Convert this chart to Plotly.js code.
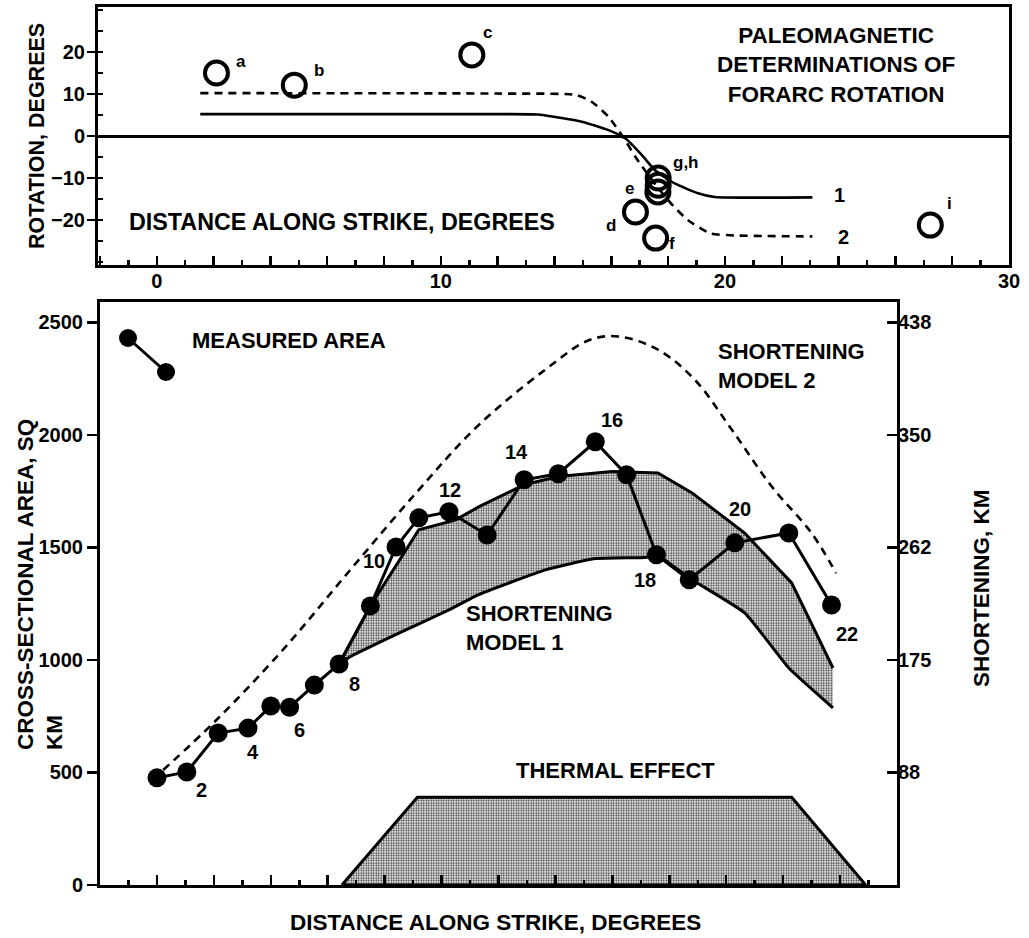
<!DOCTYPE html>
<html>
<head>
<meta charset="utf-8">
<script src="https://cdn.plot.ly/plotly-3.0.1.min.js"></script>
<style>
html,body{margin:0;padding:0;background:#fff;}
#chart{width:1029px;height:938px;}
</style>
</head>
<body>
<div id="chart"></div>
<script>
// ---------- top panel: paleomagnetic rotation ----------
const rotModel1X = [1.53, 12.01, 13.40, 14.96, 15.90, 16.50, 17.07, 17.53, 18.23, 19.05, 19.64, 23.08];
const rotModel1Y = [5.2, 5.2, 5.1, 3.4, 1.4, -0.6, -4.5, -8.1, -11.3, -13.6, -14.5, -14.6];
const rotModel2X = [1.53, 12.01, 14.73, 15.30, 15.90, 16.49, 16.84, 17.49, 18.09, 18.69, 19.49, 20.46, 23.08];
const rotModel2Y = [10.2, 10.1, 9.8, 8.2, 4.6, -1.0, -4.9, -11.0, -16.0, -20.0, -23.2, -23.7, -23.9];
const siteNames = ['a', 'b', 'c', 'd', 'e', 'f', 'g', 'h', 'i'];
const siteLabels = ['a', 'b', 'c', 'd', 'e', 'f', 'g,h', '', 'i'];
const siteX = [2.10, 4.84, 11.09, 16.85, 17.64, 17.56, 17.65, 17.65, 27.23];
const siteY = [15.0, 12.1, 19.3, -18.1, -13.3, -24.3, -10.0, -11.7, -21.2];
const topXTicks = [-2, 0, 2, 4, 6, 8, 10, 12, 14, 16, 18, 20, 22, 24, 26, 28, 30];
const topXTickText = ['', '0', '', '', '', '', '10', '', '', '', '', '20', '', '', '', '', '30'];
const topYTicks = [-20, -10, 0, 10, 20];

// ---------- bottom panel: cross-sectional area ----------
const areaX = [0.0, 1.05, 2.15, 3.2, 4.0, 4.66, 5.53, 6.4, 7.5, 8.4, 9.2, 10.26, 11.6, 12.9, 14.1, 15.4, 16.5, 17.55, 18.7, 20.3, 22.2, 23.7];
const areaY = [476, 502, 675, 697, 795, 790, 888, 982, 1240, 1502, 1631, 1658, 1555, 1800, 1827, 1969, 1822, 1467, 1356, 1520, 1564, 1244];
const pointLabels = ['2', '4', '6', '8', '10', '12', '14', '16', '18', '20', '22'];
const model1UpperX = [6.4, 7.5, 9.2, 10.5, 11.3, 12.9, 14.1, 16.0, 17.6, 18.8, 20.65, 22.3, 23.75];
const model1UpperY = [982, 1240, 1578, 1622, 1680, 1778, 1815, 1837, 1830, 1742, 1563, 1342, 964];
const model1LowerX = [6.4, 6.8, 8.5, 10.26, 11.3, 13.65, 15.4, 17.15, 17.6, 18.8, 20.65, 22.2, 23.75];
const model1LowerY = [982, 1015, 1119, 1222, 1290, 1400, 1450, 1455, 1462, 1356, 1209, 964, 787];
const model2X = [0.22, 2.09, 4.42, 6.76, 9.10, 11.25, 13.65, 15.17, 16.2, 17.6, 18.9, 20.2, 21.6, 23.0, 23.86];
const model2Y = [511, 733, 1044, 1395, 1741, 2037, 2290, 2420, 2437, 2378, 2244, 2022, 1770, 1563, 1385];
const thermalX = [6.5, 9.15, 22.3, 24.9];
const thermalY = [0, 390, 390, 0];
const botXTicks = [-2, 0, 2, 4, 6, 8, 10, 12, 14, 16, 18, 20, 22, 24, 26];
const botXLabelTicks = [0, 10, 20];
const botXLabelText = ['0', '10', '20'];
const areaTicks = [0, 500, 1000, 1500, 2000, 2500];
const shorteningTicks = [500, 1000, 1500, 2000, 2500];
const shorteningTickText = ['88', '175', '262', '350', '438'];

// ---------- styling ----------
const FONT = 'Liberation Sans, Arial, Helvetica, sans-serif';
const txt = (size) => ({family: FONT, size: size, color: '#000', weight: 700});
const W = 1029, H = 938;
const px = (x) => x / W;
const py = (y) => 1 - y / H;
const AREA_RANGE = [0, 2590];
const BOT_TOP = 302, BOT_BOTTOM = 885;
// data value that sits 11 px below the lower axis line (for the bottom tick labels)
const tickLabelY = -11 * (AREA_RANGE[1] - AREA_RANGE[0]) / (BOT_BOTTOM - BOT_TOP);

const pointLabelOffsets = {
  '2': [15, -18], '4': [5, -24], '6': [10, -23], '8': [15, -20], '10': [-22, -14],
  '12': [1, 22], '14': [-8, 28], '16': [17, 22], '18': [-11, -25], '20': [5, 34], '22': [15, -29]
};
const siteLabelOffsets = {
  'a': [25, 11], 'b': [25, 15], 'c': [16, 22], 'd': [-24, -13], 'e': [-28, 3],
  'f': [16, -5], 'g,h': [28, 16], 'i': [19, 22]
};

const bandX = model1UpperX.concat(model1LowerX.slice().reverse());
const bandY = model1UpperY.concat(model1LowerY.slice().reverse());
const thermalPolyX = thermalX.concat([thermalX[0]]);
const thermalPolyY = thermalY.concat([thermalY[0]]);

const stipple = {shape: '.', fgcolor: '#333333', bgcolor: '#ffffff', size: 2.5, solidity: 0.45};

const traces = [
  {x: rotModel1X, y: rotModel1Y, xaxis: 'x', yaxis: 'y', mode: 'lines',
   line: {color: '#000', width: 2.6, shape: 'spline', smoothing: 0.5}},
  {x: rotModel2X, y: rotModel2Y, xaxis: 'x', yaxis: 'y', mode: 'lines',
   line: {color: '#000', width: 2.6, dash: '8px,6px', shape: 'spline', smoothing: 0.5}},
  {x: siteX, y: siteY, text: siteNames, xaxis: 'x', yaxis: 'y', mode: 'markers',
   marker: {symbol: 'circle-open', size: 23, color: '#000', line: {width: 4, color: '#000'}}},
  {x: thermalPolyX, y: thermalPolyY, xaxis: 'x2', yaxis: 'y2', mode: 'lines', fill: 'toself',
   fillcolor: '#9a9a9a', fillpattern: stipple, line: {color: '#000', width: 3}},
  {x: bandX, y: bandY, xaxis: 'x2', yaxis: 'y2', mode: 'lines', fill: 'toself',
   fillcolor: '#9a9a9a', fillpattern: stipple, line: {width: 0}},
  {x: model1UpperX, y: model1UpperY, xaxis: 'x2', yaxis: 'y2', mode: 'lines',
   line: {color: '#000', width: 3}},
  {x: model1LowerX, y: model1LowerY, xaxis: 'x2', yaxis: 'y2', mode: 'lines',
   line: {color: '#000', width: 3, shape: 'spline', smoothing: 0.4}},
  {x: model2X, y: model2Y, xaxis: 'x2', yaxis: 'y2', mode: 'lines',
   line: {color: '#000', width: 2.6, dash: '8px,6px', shape: 'spline', smoothing: 1}},
  {x: areaX, y: areaY, xaxis: 'x2', yaxis: 'y2', mode: 'lines+markers',
   line: {color: '#000', width: 3}, marker: {size: 19, color: '#000'}},
  // bottom x tick labels, placed on the x2 scale just under the axis line
  {x: botXLabelTicks, y: botXLabelTicks.map(() => tickLabelY), text: botXLabelText,
   xaxis: 'x2', yaxis: 'y2', mode: 'text', textposition: 'middle center', cliponaxis: false,
   textfont: txt(20), hoverinfo: 'skip'},
  {x: [areaX[0]], y: [areaY[0]], xaxis: 'x2', yaxis: 'y3', mode: 'markers',
   marker: {opacity: 0}, hoverinfo: 'skip'}
];

const annotations = [];
siteLabels.forEach((lab, i) => {
  if (!lab) return;
  const o = siteLabelOffsets[lab];
  annotations.push({x: siteX[i], y: siteY[i], xref: 'x', yref: 'y', text: lab, showarrow: false,
    xshift: o[0], yshift: o[1], font: txt(17)});
});
pointLabels.forEach((lab) => {
  const i = parseInt(lab, 10) - 1;
  const o = pointLabelOffsets[lab];
  annotations.push({x: areaX[i], y: areaY[i], xref: 'x2', yref: 'y2', text: lab, showarrow: false,
    xshift: o[0], yshift: o[1], font: txt(20)});
});
annotations.push({x: rotModel1X[rotModel1X.length - 1], y: rotModel1Y[rotModel1Y.length - 1], xref: 'x', yref: 'y',
  text: '1', showarrow: false, xshift: 27, yshift: 2, font: txt(20)});
annotations.push({x: rotModel2X[rotModel2X.length - 1], y: rotModel2Y[rotModel2Y.length - 1], xref: 'x', yref: 'y',
  text: '2', showarrow: false, xshift: 31, yshift: -1, font: txt(20)});

const freeText = [
  {x: px(836), y: py(65), text: 'PALEOMAGNETIC<br>DETERMINATIONS OF<br>FORARC ROTATION', size: 22.5, align: 'center'},
  {x: px(342), y: py(222), text: 'DISTANCE ALONG STRIKE, DEGREES', size: 23.3, align: 'center'},
  {x: px(289), y: py(340), text: 'MEASURED AREA', size: 22, align: 'center'},
  {x: px(791), y: py(366), text: 'SHORTENING<br>MODEL 2', size: 22, align: 'left'},
  {x: px(539), y: py(628), text: 'SHORTENING<br>MODEL 1', size: 22, align: 'left'},
  {x: px(615), y: py(770), text: 'THERMAL EFFECT', size: 22, align: 'center'},
  {x: px(495), y: py(922), text: 'DISTANCE ALONG STRIKE, DEGREES', size: 22.5, align: 'center'}
];
freeText.forEach(t => annotations.push({x: t.x, y: t.y, xref: 'paper', yref: 'paper', text: t.text,
  showarrow: false, align: t.align, xanchor: 'center', yanchor: 'middle', borderpad: 0, font: txt(t.size)}));
annotations.push({x: px(37), y: py(136), xref: 'paper', yref: 'paper', text: 'ROTATION, DEGREES',
  textangle: -90, showarrow: false, font: txt(21.5), xanchor: 'center', yanchor: 'middle'});
annotations.push({x: px(40), y: py(585), xref: 'paper', yref: 'paper', text: 'CROSS-SECTIONAL AREA, SQ<br>KM',
  textangle: -90, showarrow: false, align: 'left', font: txt(22.5), xanchor: 'center', yanchor: 'middle'});
annotations.push({x: px(981), y: py(588), xref: 'paper', yref: 'paper', text: 'SHORTENING, KM',
  textangle: -90, showarrow: false, font: txt(22.5), xanchor: 'center', yanchor: 'middle'});

const shapes = [
  {type: 'line', xref: 'paper', yref: 'paper', x0: px(128), y0: py(338), x1: px(166), y1: py(372),
   line: {color: '#000', width: 3}},
  {type: 'circle', xref: 'paper', yref: 'paper', xsizemode: 'pixel', ysizemode: 'pixel',
   xanchor: px(128), yanchor: py(338), x0: -9, x1: 9, y0: -9, y1: 9, fillcolor: '#000', line: {width: 0}},
  {type: 'circle', xref: 'paper', yref: 'paper', xsizemode: 'pixel', ysizemode: 'pixel',
   xanchor: px(166), yanchor: py(372), x0: -9, x1: 9, y0: -9, y1: 9, fillcolor: '#000', line: {width: 0}}
];

const axisLine = {showline: true, linecolor: '#000', linewidth: 3, showgrid: false, zeroline: false};

const layout = {
  width: W, height: H,
  margin: {l: 0, r: 0, t: 0, b: 0},
  paper_bgcolor: '#fff', plot_bgcolor: 'rgba(0,0,0,0)',
  showlegend: false, hovermode: false,
  xaxis: Object.assign({}, axisLine, {domain: [px(98), px(1009)], range: [-2.07, 30.0], anchor: 'y', mirror: true,
    tickmode: 'array', tickvals: topXTicks, ticktext: topXTickText, ticks: 'inside', ticklen: 9, tickwidth: 2.5,
    tickcolor: '#000', tickfont: txt(20), ticklabelstandoff: -4,
    minor: {dtick: 1, tick0: 0, ticks: 'inside', ticklen: 5, tickwidth: 2.5, tickcolor: '#000'}}),
  yaxis: Object.assign({}, axisLine, {domain: [py(265), py(7)], range: [-30.7, 30.7], anchor: 'x', mirror: true,
    tickmode: 'array', tickvals: topYTicks, ticks: 'outside', ticklen: 8, tickwidth: 2.5, tickcolor: '#000',
    tickfont: txt(20), zeroline: true, zerolinecolor: '#000', zerolinewidth: 3, ticklabelstandoff: -2,
    minor: {dtick: 5, tick0: 0, ticks: 'inside', ticklen: 5, tickwidth: 2.5, tickcolor: '#000'}}),
  xaxis2: Object.assign({}, axisLine, {domain: [px(100), px(897)], range: [-2, 26], anchor: 'y2', mirror: true,
    tickmode: 'array', tickvals: botXTicks, showticklabels: false, ticks: 'inside', ticklen: 10,
    tickwidth: 2.5, tickcolor: '#000',
    minor: {dtick: 1, tick0: 0, ticks: 'inside', ticklen: 5, tickwidth: 2.5, tickcolor: '#000'}}),
  yaxis2: Object.assign({}, axisLine, {domain: [py(BOT_BOTTOM), py(BOT_TOP)], range: AREA_RANGE, anchor: 'x2', mirror: true,
    tickmode: 'array', tickvals: areaTicks, ticks: 'outside', ticklen: 10, tickwidth: 2.5, tickcolor: '#000',
    tickfont: txt(20)}),
  yaxis3: {overlaying: 'y2', side: 'right', anchor: 'x2', range: AREA_RANGE, showline: false, showgrid: false,
    zeroline: false, tickmode: 'array', tickvals: shorteningTicks, ticktext: shorteningTickText,
    ticks: 'inside', ticklen: 10, tickwidth: 2.5, tickcolor: '#000', tickfont: txt(20)},
  annotations: annotations,
  shapes: shapes
};

Plotly.newPlot('chart', traces, layout, {staticPlot: true, displayModeBar: false});
</script>
</body>
</html>
